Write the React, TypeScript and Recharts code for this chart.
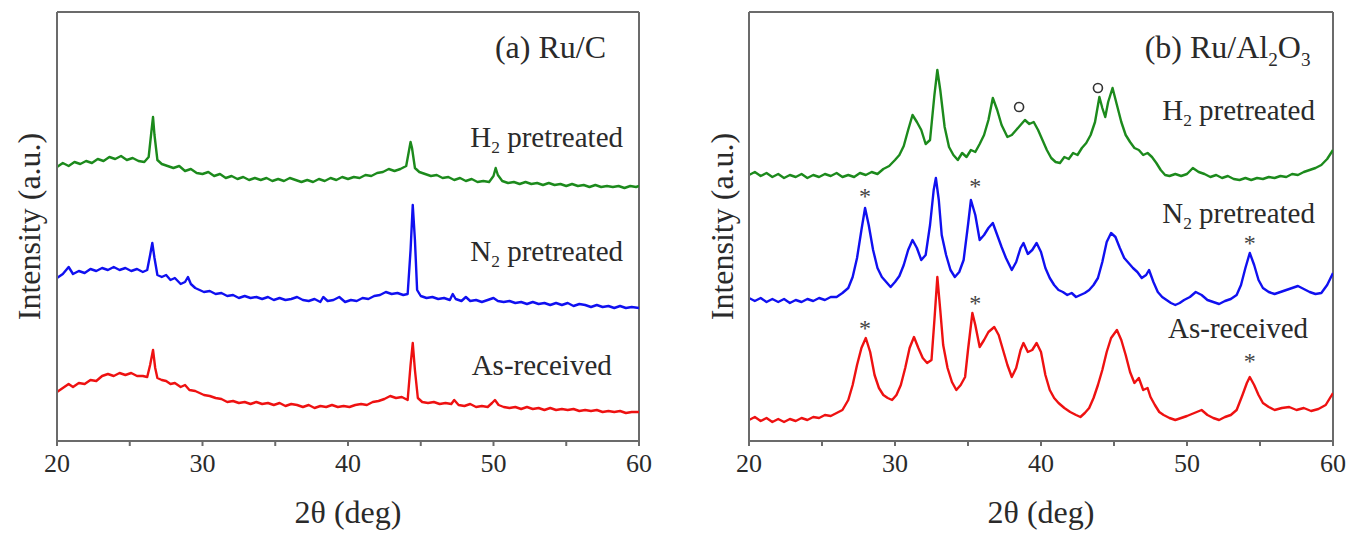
import React from "react";
import { ComposedChart, Line, Scatter, XAxis, YAxis, Label, ReferenceLine } from "recharts";

// 2theta ticks (major every 10, minor every 5)
const xTicks = [20, 25, 30, 35, 40, 45, 50, 55, 60];
const yDomain = [-1, 428];

// ---- (a) Ru/C : [2theta, intensity (offset, a.u.)] ----
const ruC_H2 = [
  [20, 273], [20.4, 277], [20.8, 274], [21.2, 278], [21.6, 276], [22, 279], [22.4, 277], [22.8, 281], [23.2, 279], [23.6, 283],
  [24, 281], [24.4, 284], [24.8, 280], [25.2, 282], [25.6, 279], [26, 278], [26.3, 283], [26.5, 310], [26.6, 323], [26.7, 305],
  [26.9, 280], [27.2, 276], [27.6, 274], [28, 272], [28.4, 274], [28.8, 269], [29.2, 271], [29.6, 267], [30, 266], [30.4, 268],
  [30.8, 264], [31.2, 266], [31.6, 262], [32, 264], [32.4, 261], [32.8, 263], [33.2, 260], [33.6, 262], [34, 260], [34.4, 262],
  [34.8, 259], [35.2, 261], [35.6, 259], [36, 262], [36.4, 260], [36.8, 258], [37.2, 260], [37.6, 258], [38, 261], [38.4, 259],
  [38.8, 262], [39.2, 260], [39.6, 263], [40, 261], [40.4, 263], [40.8, 262], [41.2, 265], [41.6, 264], [42, 267], [42.4, 268],
  [42.8, 271], [43.2, 269], [43.6, 271], [44, 274], [44.2, 290], [44.3, 298], [44.4, 292], [44.6, 272], [44.9, 268], [45.3, 266],
  [45.7, 264], [46.1, 265], [46.5, 262], [46.9, 263], [47.3, 260], [47.7, 262], [48.1, 259], [48.5, 261], [48.9, 258], [49.3, 259],
  [49.7, 258], [50, 264], [50.15, 272], [50.3, 265], [50.6, 259], [51, 257], [51.4, 258], [51.8, 256], [52.2, 258], [52.6, 256],
  [53, 257], [53.4, 255], [53.8, 257], [54.2, 255], [54.6, 256], [55, 254], [55.4, 256], [55.8, 254], [56.2, 255], [56.6, 253],
  [57, 255], [57.4, 253], [57.8, 254], [58.2, 253], [58.6, 254], [59, 252], [59.4, 254], [59.8, 253], [60, 254],
];

const ruC_N2 = [
  [20, 162], [20.4, 166], [20.8, 173], [21.1, 166], [21.5, 169], [21.9, 167], [22.3, 171], [22.7, 169], [23.1, 172], [23.5, 170],
  [23.9, 173], [24.3, 170], [24.7, 172], [25.1, 169], [25.5, 171], [25.9, 168], [26.2, 170], [26.4, 185], [26.55, 197], [26.7, 182],
  [26.9, 165], [27.2, 163], [27.5, 165], [27.8, 160], [28.1, 162], [28.5, 156], [28.8, 158], [29, 163], [29.2, 156], [29.5, 152],
  [29.8, 150], [30.1, 148], [30.5, 149], [30.9, 146], [31.3, 147], [31.7, 144], [32.1, 145], [32.5, 142], [32.9, 144], [33.3, 142],
  [33.7, 143], [34.1, 141], [34.5, 143], [34.9, 140], [35.3, 142], [35.7, 140], [36.1, 141], [36.5, 143], [36.9, 140], [37.3, 139],
  [37.7, 141], [38.1, 138], [38.3, 143], [38.6, 139], [39, 140], [39.4, 143], [39.8, 138], [40.2, 140], [40.6, 139], [41, 142],
  [41.4, 141], [41.8, 144], [42.2, 145], [42.6, 148], [43, 146], [43.4, 147], [43.8, 145], [44.1, 146], [44.3, 190], [44.45, 235],
  [44.6, 200], [44.75, 150], [45, 144], [45.4, 142], [45.8, 143], [46.2, 141], [46.6, 142], [47, 140], [47.2, 146], [47.4, 141],
  [47.8, 139], [48.1, 143], [48.4, 139], [48.8, 140], [49.2, 138], [49.6, 140], [50, 142], [50.3, 139], [50.7, 138], [51.1, 139],
  [51.5, 137], [51.9, 138], [52.3, 136], [52.7, 138], [53.1, 136], [53.5, 137], [53.9, 135], [54.3, 137], [54.7, 135], [55.1, 137],
  [55.5, 134], [55.9, 136], [56.3, 135], [56.7, 133], [57.1, 135], [57.5, 133], [57.9, 134], [58.3, 132], [58.7, 134], [59.1, 132],
  [59.5, 133], [60, 132],
];

const ruC_asReceived = [
  [20, 48], [20.4, 52], [20.8, 56], [21.1, 53], [21.5, 57], [21.9, 56], [22.3, 60], [22.7, 59], [23.1, 64], [23.5, 66],
  [23.9, 64], [24.3, 67], [24.7, 65], [25.1, 67], [25.5, 64], [25.9, 64], [26.2, 63], [26.4, 75], [26.6, 90], [26.75, 72],
  [26.9, 62], [27.2, 60], [27.5, 59], [27.8, 56], [28.1, 57], [28.5, 53], [28.8, 55], [29.1, 50], [29.5, 49], [29.8, 47],
  [30.1, 45], [30.5, 44], [30.9, 42], [31.3, 41], [31.7, 38], [32.1, 39], [32.5, 37], [32.9, 38], [33.3, 36], [33.7, 38],
  [34.1, 36], [34.5, 37], [34.9, 35], [35.3, 37], [35.7, 34], [36.1, 36], [36.5, 35], [36.9, 33], [37.3, 35], [37.7, 32],
  [38.1, 34], [38.5, 33], [38.9, 35], [39.3, 33], [39.7, 34], [40.1, 33], [40.5, 35], [40.9, 36], [41.3, 35], [41.7, 38],
  [42.1, 39], [42.5, 41], [42.9, 44], [43.3, 42], [43.7, 43], [44.1, 40], [44.3, 75], [44.45, 97], [44.6, 70], [44.8, 42],
  [45.1, 38], [45.5, 37], [45.9, 38], [46.3, 36], [46.7, 37], [47.1, 36], [47.3, 40], [47.6, 35], [48, 34], [48.4, 36],
  [48.8, 33], [49.2, 34], [49.6, 33], [49.9, 37], [50.1, 40], [50.35, 35], [50.7, 33], [51.1, 32], [51.5, 33], [51.9, 31],
  [52.3, 33], [52.7, 31], [53.1, 32], [53.5, 30], [53.9, 32], [54.3, 30], [54.7, 31], [55.1, 30], [55.5, 31], [55.9, 29],
  [56.3, 30], [56.7, 29], [57.1, 30], [57.5, 28], [57.9, 29], [58.3, 28], [58.7, 29], [59.1, 27], [59.5, 28], [60, 28],
];

// ---- (b) Ru/Al2O3 ----
const ruAl_H2 = [
  [20, 265], [20.4, 268], [20.8, 264], [21.2, 267], [21.6, 263], [22, 266], [22.4, 262], [22.8, 265], [23.2, 263], [23.6, 266],
  [24, 262], [24.4, 265], [24.8, 263], [25.2, 266], [25.6, 264], [26, 267], [26.4, 263], [26.8, 265], [27.2, 263], [27.6, 267],
  [28, 265], [28.4, 268], [28.8, 266], [29.2, 271], [29.6, 274], [30, 280], [30.3, 285], [30.6, 294], [30.9, 310], [31.2, 325],
  [31.5, 318], [31.8, 310], [32.1, 296], [32.4, 300], [32.7, 345], [32.9, 370], [33.1, 350], [33.4, 313], [33.7, 293], [34, 285],
  [34.3, 280], [34.6, 287], [34.9, 283], [35.2, 290], [35.5, 288], [35.8, 296], [36.1, 305], [36.4, 320], [36.7, 342], [37, 330],
  [37.3, 315], [37.7, 303], [38, 305], [38.3, 310], [38.6, 315], [38.9, 320], [39.2, 316], [39.5, 318], [39.8, 310], [40.1, 300],
  [40.4, 290], [40.7, 282], [41, 278], [41.3, 277], [41.6, 283], [41.9, 281], [42.2, 287], [42.5, 285], [42.8, 292], [43.1, 297],
  [43.4, 305], [43.7, 318], [44, 343], [44.2, 332], [44.4, 323], [44.6, 338], [44.9, 352], [45.2, 335], [45.5, 318], [45.8, 305],
  [46.1, 298], [46.4, 292], [46.7, 290], [47, 285], [47.3, 287], [47.6, 283], [47.9, 277], [48.2, 270], [48.5, 265], [48.8, 264],
  [49.2, 266], [49.6, 264], [50, 266], [50.4, 272], [50.8, 268], [51.2, 266], [51.6, 263], [52, 265], [52.4, 262], [52.8, 264],
  [53.2, 261], [53.6, 260], [54, 262], [54.4, 260], [54.8, 262], [55.2, 261], [55.6, 263], [56, 262], [56.4, 264], [56.8, 263],
  [57.2, 266], [57.6, 265], [58, 268], [58.4, 270], [58.8, 272], [59.2, 275], [59.6, 281], [60, 290],
];

const ruAl_N2 = [
  [20, 142], [20.4, 139], [20.8, 142], [21.2, 138], [21.6, 141], [22, 138], [22.4, 141], [22.8, 137], [23.2, 140], [23.6, 138],
  [24, 141], [24.4, 139], [24.8, 142], [25.2, 140], [25.6, 143], [26, 143], [26.4, 147], [26.8, 152], [27.1, 163], [27.4, 182],
  [27.7, 210], [27.95, 232], [28.2, 215], [28.5, 190], [28.8, 172], [29.1, 163], [29.4, 158], [29.7, 153], [30, 158], [30.3, 164],
  [30.6, 175], [30.9, 190], [31.2, 200], [31.5, 192], [31.8, 180], [32.1, 185], [32.4, 215], [32.65, 250], [32.8, 262], [33, 240],
  [33.2, 205], [33.5, 185], [33.8, 170], [34.1, 163], [34.4, 168], [34.7, 180], [35, 215], [35.2, 240], [35.5, 225], [35.8, 200],
  [36.1, 205], [36.4, 212], [36.7, 217], [37, 205], [37.3, 193], [37.6, 182], [38, 170], [38.3, 178], [38.6, 192], [38.8, 197],
  [39.1, 186], [39.4, 190], [39.7, 197], [40, 188], [40.3, 172], [40.6, 162], [40.9, 155], [41.2, 150], [41.5, 148], [41.8, 145],
  [42.1, 147], [42.4, 143], [42.7, 145], [43, 147], [43.3, 150], [43.6, 155], [43.9, 162], [44.2, 178], [44.5, 198], [44.8, 207],
  [45.1, 203], [45.4, 192], [45.7, 182], [46, 177], [46.3, 172], [46.6, 168], [46.9, 162], [47.2, 165], [47.4, 170], [47.7, 158],
  [48, 148], [48.3, 143], [48.6, 140], [48.9, 137], [49.2, 135], [49.5, 137], [49.8, 140], [50.2, 143], [50.6, 148], [51, 145],
  [51.4, 140], [51.8, 138], [52.2, 136], [52.6, 139], [53, 141], [53.4, 145], [53.7, 155], [54, 172], [54.3, 187], [54.6, 175],
  [54.9, 160], [55.2, 152], [55.6, 148], [56, 146], [56.4, 148], [56.8, 150], [57.2, 152], [57.6, 154], [58, 151], [58.4, 148],
  [58.8, 146], [59.2, 147], [59.6, 155], [60, 167],
];

const ruAl_asReceived = [
  [20, 20], [20.4, 23], [20.8, 19], [21.2, 22], [21.6, 18], [22, 21], [22.4, 18], [22.8, 21], [23.2, 19], [23.6, 22],
  [24, 20], [24.4, 23], [24.8, 22], [25.2, 25], [25.6, 24], [26, 27], [26.4, 30], [26.8, 40], [27.1, 55], [27.4, 75],
  [27.7, 92], [28, 102], [28.3, 88], [28.6, 65], [28.9, 52], [29.2, 45], [29.5, 42], [29.8, 40], [30.1, 45], [30.4, 55],
  [30.7, 72], [31, 92], [31.3, 103], [31.6, 92], [31.9, 82], [32.2, 77], [32.5, 80], [32.7, 120], [32.9, 163], [33.1, 130],
  [33.3, 95], [33.6, 72], [33.9, 58], [34.2, 50], [34.5, 55], [34.8, 63], [35, 90], [35.3, 127], [35.5, 115], [35.8, 93],
  [36.1, 100], [36.4, 108], [36.8, 113], [37.1, 105], [37.4, 90], [37.7, 75], [38, 63], [38.3, 72], [38.6, 90], [38.8, 97],
  [39.1, 88], [39.4, 90], [39.7, 97], [40, 88], [40.3, 65], [40.6, 50], [40.9, 42], [41.2, 37], [41.6, 32], [42, 28],
  [42.4, 25], [42.7, 23], [43, 27], [43.3, 32], [43.6, 42], [43.9, 55], [44.2, 70], [44.5, 88], [44.8, 102], [45.2, 110],
  [45.5, 100], [45.8, 85], [46.1, 68], [46.4, 57], [46.7, 62], [47, 50], [47.3, 52], [47.5, 43], [47.8, 35], [48.1, 28],
  [48.4, 25], [48.8, 22], [49.2, 20], [49.6, 22], [50, 24], [50.5, 27], [51, 30], [51.4, 25], [51.8, 22], [52.2, 20],
  [52.6, 23], [53, 25], [53.4, 30], [53.8, 45], [54.1, 57], [54.3, 63], [54.6, 55], [54.9, 45], [55.2, 37], [55.6, 33],
  [56, 30], [56.5, 32], [57, 33], [57.5, 30], [58, 32], [58.5, 29], [59, 31], [59.5, 35], [60, 47],
];

// text labels: segment [text, isSubscript]
const ruC_labels = [
  { x: 50.1, y: 393, size: 32, parts: [["(a) Ru/C", 0]] },
  { x: 48.4, y: 303, size: 29, parts: [["H", 0], ["2", 1], [" pretreated", 0]] },
  { x: 48.4, y: 189, size: 29, parts: [["N", 0], ["2", 1], [" pretreated", 0]] },
  { x: 48.5, y: 75, size: 29, parts: [["As-received", 0]] },
];

const ruAl_labels = [
  { x: 47.1, y: 393, size: 32, parts: [["(b) Ru/Al", 0], ["2", 1], ["O", 0], ["3", 1]] },
  { x: 48.3, y: 330, size: 29, parts: [["H", 0], ["2", 1], [" pretreated", 0]] },
  { x: 48.3, y: 227, size: 29, parts: [["N", 0], ["2", 1], [" pretreated", 0]] },
  { x: 48.7, y: 112, size: 29, parts: [["As-received", 0]] },
];

// phase markers in (b): ring = "o", star = "*"
const ruAl_rings = [
  { x: 38.5, y: 333 },
  { x: 43.9, y: 352 },
];
const ruAl_stars = [
  { x: 27.95, y: 247 }, { x: 35.5, y: 257 }, { x: 54.3, y: 200 },
  { x: 27.95, y: 115 }, { x: 35.5, y: 140 }, { x: 54.3, y: 82 },
];

const pts = (a: number[][]) => a.map(([x, y]) => ({ x, y }));

const FONT = "'Liberation Serif', 'Times New Roman', serif";
const AXIS = "#6b6b6b";
const TXT = "#2a2a2a";

const TextShape = (props: any) => {
  const { cx, cy, payload } = props;
  const sub = Math.round(payload.size * 0.36);
  let level = 0;
  return (
    <text x={cx} y={cy} dominantBaseline="central" fontSize={payload.size} fill={TXT} fontFamily={FONT}>
      {payload.parts.map((p: any, i: number) => {
        const target = p[1] ? sub : 0;
        const dy = target - level;
        level = target;
        return (
          <tspan key={i} dy={dy} fontSize={p[1] ? payload.size * 0.6 : payload.size}>
            {p[0]}
          </tspan>
        );
      })}
    </text>
  );
};

const RingShape = (props: any) => (
  <circle cx={props.cx} cy={props.cy} r={4.5} fill="none" stroke="#333" strokeWidth={1.6} />
);

const StarShape = (props: any) => (
  <text x={props.cx} y={props.cy + 11} textAnchor="middle" fontSize={24} fill="#444" fontFamily={FONT}>*</text>
);

type PanelProps = {
  series: { data: number[][]; color: string; name: string }[];
  labels: any[];
  rings?: { x: number; y: number }[];
  stars?: { x: number; y: number }[];
  margin: { top: number; right: number; bottom: number; left: number };
  yWidth: number;
};

function Panel({ series, labels, rings, stars, margin, yWidth }: PanelProps) {
  return (
    <ComposedChart width={675} height={533} margin={margin}>
      <XAxis
        type="number"
        dataKey="x"
        domain={[20, 60]}
        ticks={xTicks}
        tickFormatter={(v: number) => (v % 10 === 0 ? String(v) : "")}
        allowDataOverflow
        height={92}
        stroke={AXIS}
        strokeWidth={2}
        tickSize={5}
        tickMargin={8}
        tick={{ fill: TXT, fontSize: 26, fontFamily: FONT }}
      >
        <Label value="2θ (deg)" position="insideBottom" offset={10} fontSize={32} fill={TXT} fontFamily={FONT} />
      </XAxis>
      <YAxis type="number" dataKey="y" domain={yDomain} allowDataOverflow width={yWidth} tick={false} tickLine={false} stroke={AXIS} strokeWidth={2}>
        <Label value="Intensity (a.u.)" angle={-90} position="center" fontSize={32} fill={TXT} fontFamily={FONT} />
      </YAxis>
      <ReferenceLine y={yDomain[1]} stroke={AXIS} strokeWidth={2} />
      <ReferenceLine x={60} stroke={AXIS} strokeWidth={2} />
      {series.map((s) => (
        <Line
          key={s.name}
          data={pts(s.data)}
          dataKey="y"
          type="linear"
          stroke={s.color}
          strokeWidth={2.4}
          strokeLinejoin="round"
          dot={false}
          isAnimationActive={false}
        />
      ))}
      <Scatter data={labels} dataKey="y" shape={TextShape} isAnimationActive={false} />
      {rings && <Scatter data={rings} dataKey="y" shape={RingShape} isAnimationActive={false} />}
      {stars && <Scatter data={stars} dataKey="y" shape={StarShape} isAnimationActive={false} />}
    </ComposedChart>
  );
}

export default function App() {
  return (
    <div style={{ position: "fixed", left: 0, top: 0, width: 1350, height: 533, background: "#fff", fontFamily: FONT }}>
      <div style={{ position: "absolute", left: 0, top: 0 }}>
        <Panel
          series={[
            { name: "H2", data: ruC_H2, color: "#1c8a1c" },
            { name: "N2", data: ruC_N2, color: "#1010f0" },
            { name: "As", data: ruC_asReceived, color: "#ee1111" },
          ]}
          labels={ruC_labels}
          margin={{ top: 12, right: 36, bottom: 0, left: 0 }}
          yWidth={57}
        />
      </div>
      <div style={{ position: "absolute", left: 675, top: 0 }}>
        <Panel
          series={[
            { name: "H2", data: ruAl_H2, color: "#1c8a1c" },
            { name: "N2", data: ruAl_N2, color: "#1010f0" },
            { name: "As", data: ruAl_asReceived, color: "#ee1111" },
          ]}
          labels={ruAl_labels}
          rings={ruAl_rings}
          stars={ruAl_stars}
          margin={{ top: 12, right: 17, bottom: 0, left: 20 }}
          yWidth={54}
        />
      </div>
    </div>
  );
}
